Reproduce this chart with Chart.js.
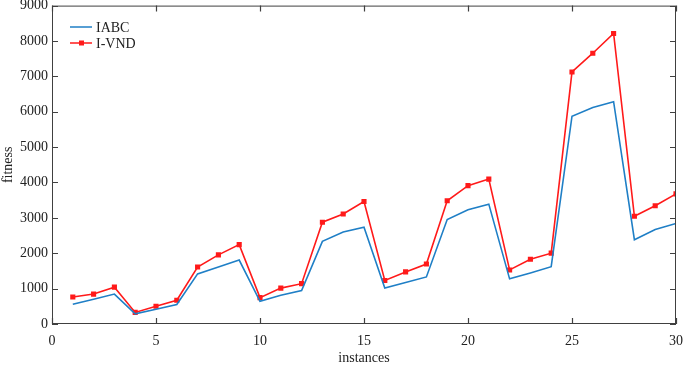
<!DOCTYPE html>
<html><head><meta charset="utf-8">
<script src="https://cdn.jsdelivr.net/npm/chart.js@4"></script>
<style>html,body{margin:0;padding:0;background:#fff;}#wrap{width:685px;height:365px;}</style>
</head><body><div id="wrap"><canvas id="c" width="685" height="365"></canvas></div>
<script>
const instances = [1,2,3,4,5,6,7,8,9,10,11,12,13,14,15,16,17,18,19,20,21,22,23,24,25,26,27,28,29,30];
const iabc = [559,698,846,288,419,550,1416,1612,1807,642,810,945,2337,2598,2737,1015,1173,1331,2952,3231,3389,1276,1443,1620,5874,6117,6285,2383,2673,2841];
const ivnd = [763,846,1042,327,503,670,1612,1955,2243,746,1014,1140,2877,3109,3464,1229,1472,1695,3483,3911,4097,1528,1830,2002,7123,7654,8212,3045,3343,3678];
const xTicks = [0,5,10,15,20,25,30];
const yTicks = [0,1000,2000,3000,4000,5000,6000,7000,8000,9000];
const seriesNames = ['IABC','I-VND'];
const FONT = '"Liberation Serif", "Times New Roman", serif';
const AX = '#404040';

const boxPlugin = {
  id:'box',
  afterDraw(chart){
    const {ctx, chartArea:a, scales:{x,y}} = chart;
    ctx.save();
    ctx.strokeStyle = AX; ctx.lineWidth = 1;
    ctx.strokeRect(a.left+0.5, a.top+0.5, a.right-a.left-1, a.bottom-a.top-1);
    ctx.lineWidth = 1.2;
    const L = 6;
    ctx.beginPath();
    xTicks.forEach(v=>{const px=Math.round(x.getPixelForValue(v))+0.5;
      ctx.moveTo(px,a.bottom); ctx.lineTo(px,a.bottom-L);
      ctx.moveTo(px,a.top); ctx.lineTo(px,a.top+L);});
    yTicks.forEach(v=>{const py=Math.round(y.getPixelForValue(v))+0.5;
      ctx.moveTo(a.left,py); ctx.lineTo(a.left+L,py);
      ctx.moveTo(a.right,py); ctx.lineTo(a.right-L,py);});
    ctx.stroke();
    const ds = chart.data.datasets;
    ctx.font = '14px ' + FONT; ctx.textBaseline='middle';
    ds.forEach((d,i)=>{
      const ly = 27 + i*16;
      ctx.strokeStyle = d.borderColor; ctx.lineWidth = 1.5;
      ctx.beginPath(); ctx.moveTo(70,ly); ctx.lineTo(92,ly); ctx.stroke();
      if (d.pointRadius>0){ ctx.fillStyle=d.borderColor; ctx.fillRect(79,ly-2.5,5,5); }
      ctx.fillStyle='#222'; ctx.fillText(d.label, 96, ly+1);
    });
    ctx.restore();
  }
};

new Chart(document.getElementById('c'), {
  type:'line',
  data:{datasets:[
    {label:seriesNames[0], data:instances.map((v,i)=>({x:v,y:iabc[i]})), borderColor:'#1f7fc6', backgroundColor:'#1f7fc6', borderWidth:1.6, pointRadius:0, tension:0},
    {label:seriesNames[1], data:instances.map((v,i)=>({x:v,y:ivnd[i]})), borderColor:'#ff1a1a', backgroundColor:'#ff1a1a', borderWidth:1.6, pointRadius:2.5, pointStyle:'rect', tension:0}
  ]},
  options:{
    responsive:false, animation:false, devicePixelRatio:1,
    layout:{padding:{left:0,right:9,top:2,bottom:0}},
    plugins:{legend:{display:false}, tooltip:{enabled:false}},
    scales:{
      x:{type:'linear', min:0, max:30, afterBuildTicks(s){s.ticks=xTicks.map(v=>({value:v}));},
        grid:{display:false, drawTicks:false}, border:{display:false},
        ticks:{padding:9, color:'#222', font:{family:FONT,size:14}, maxRotation:0, callback:v=>String(v)},
        title:{display:true, text:'instances', color:'#222', font:{family:FONT,size:14}, padding:{top:2,bottom:-2}},
        afterFit(s){s.height=41; s.paddingLeft=0; s.paddingRight=0;}
      },
      y:{type:'linear', min:0, max:9000, afterBuildTicks(s){s.ticks=yTicks.map(v=>({value:v}));},
        grid:{display:false, drawTicks:false}, border:{display:false},
        ticks:{padding:4, color:'#222', font:{family:FONT,size:14}, callback:v=>String(v)},
        title:{display:true, text:'fitness', color:'#222', font:{family:FONT,size:14}, padding:{top:0,bottom:2}},
        afterFit(s){s.width=52; s.paddingTop=0; s.paddingBottom=0;}
      }
    }
  },
  plugins:[boxPlugin]
});
</script></body></html>
